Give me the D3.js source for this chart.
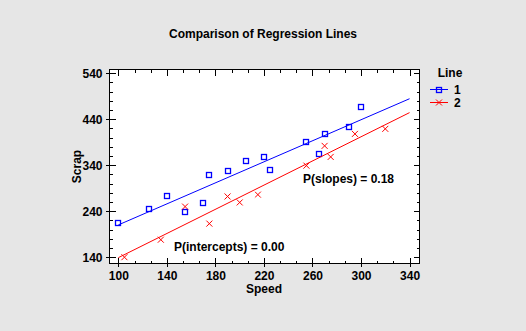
<!DOCTYPE html>
<html>
<head>
<meta charset="utf-8">
<script src="https://cdn.jsdelivr.net/npm/d3@7"></script>
<style>
  html, body { margin: 0; padding: 0; background: #e6e6e6; }
  svg { display: block; }
  text { font-family: "Liberation Sans", Arial, sans-serif; font-weight: bold; fill: #000; }
</style>
</head>
<body>
<svg id="chart" width="526" height="331"></svg>
<script>
/* ── Data ──────────────────────────────────────────────────── */
const line1Speed = [100, 125, 140, 155, 170, 175, 190, 205, 220, 225, 255, 265, 270, 290, 300];
const line1Scrap = [215, 245, 273, 239, 258, 319, 327, 349, 358, 330, 390, 364, 408, 423, 466];
const line2Speed = [105, 135, 155, 175, 190, 200, 215, 255, 270, 275, 295, 320];
const line2Scrap = [140, 178, 250, 213, 272, 259, 276, 339, 382, 358, 408, 419];

const xMajor = [100, 140, 180, 220, 260, 300, 340];
const yMajor = [140, 240, 340, 440, 540];
const fitRange = [100, 340];

const pSlopes = 'P(slopes) = 0.18';
const pIntercepts = 'P(intercepts) = 0.00';

const series = [
  { name: '1', speed: line1Speed, scrap: line1Scrap, color: '#0000ff', marker: 'square' },
  { name: '2', speed: line2Speed, scrap: line2Scrap, color: '#ff0000', marker: 'cross' },
];

/* ── Layout ────────────────────────────────────────────────── */
const svg = d3.select('#chart');
const plot = { left: 109.5, top: 69.5, right: 419.5, bottom: 263.5 };

const x = d3.scaleLinear().domain([92.7, 348.2]).range([plot.left, plot.right]);
const y = d3.scaleLinear().domain([126.3, 548]).range([plot.bottom, plot.top]);

// minor ticks: 3 steps per x major, 5 per y major
const xMinor = d3.range(0, 22).map(i => 100 + i * 40 / 3).filter(v => v <= 348 && !xMajor.some(m => Math.abs(m - v) < 1e-6));
const yMinor = d3.range(120, 560, 20).filter(v => v > 127 && v < 548 && !yMajor.includes(v));

svg.append('rect')
  .attr('x', plot.left).attr('y', plot.top)
  .attr('width', plot.right - plot.left).attr('height', plot.bottom - plot.top)
  .attr('fill', '#fff');

/* ── Axes ──────────────────────────────────────────────────── */
function tickAxis(axisFn, scale, values, size, tx, ty, labels) {
  const g = svg.append('g')
    .attr('transform', `translate(${tx},${ty})`)
    .call(axisFn(scale).tickValues(values).tickSizeInner(size).tickSizeOuter(0)
      .tickPadding(labels ? 6 : 0).tickFormat(labels ? d3.format('d') : ''));
  g.select('.domain').remove();
  g.selectAll('line').attr('stroke', '#000').attr('shape-rendering', 'crispEdges');
  g.selectAll('text').style('font-size', '12px').attr('fill', '#000');
  return g;
}

// bottom / left with labels, ticks pointing inward
tickAxis(d3.axisBottom, x, xMajor, -6, 0, plot.bottom, true)
  .selectAll('text').attr('dy', '0.9em');
tickAxis(d3.axisBottom, x, xMinor, -3, 0, plot.bottom, false);
tickAxis(d3.axisBottom, x, xMajor, 3, 0, plot.bottom, false);
tickAxis(d3.axisLeft, y, yMajor, -6, plot.left, 0, true)
  .selectAll('text').attr('x', -7);
tickAxis(d3.axisLeft, y, yMinor, -3, plot.left, 0, false);
tickAxis(d3.axisLeft, y, yMajor, 4, plot.left, 0, false);

// mirrored top / right
tickAxis(d3.axisTop, x, xMajor, -6, 0, plot.top, false);
tickAxis(d3.axisTop, x, xMinor, -3, 0, plot.top, false);
tickAxis(d3.axisRight, y, yMajor, -6, plot.right, 0, false);
tickAxis(d3.axisRight, y, yMinor, -3, plot.right, 0, false);

svg.append('rect')
  .attr('x', plot.left).attr('y', plot.top)
  .attr('width', plot.right - plot.left).attr('height', plot.bottom - plot.top)
  .attr('fill', 'none').attr('stroke', '#000').attr('stroke-width', 1);

/* ── Regression lines + points ─────────────────────────────── */
function fit(xs, ys) {
  const mx = d3.mean(xs), my = d3.mean(ys);
  const sxy = d3.sum(xs, (v, i) => (v - mx) * (ys[i] - my));
  const sxx = d3.sum(xs, v => (v - mx) ** 2);
  const b = sxy / sxx;
  return { a: my - b * mx, b };
}

const plotG = svg.append('g');

function drawMarker(g, type, cx, cy, color) {
  if (type === 'square') {
    g.append('rect')
      .attr('x', Math.round(cx) - 2.5).attr('y', Math.round(cy) - 2.5)
      .attr('width', 5).attr('height', 5)
      .attr('fill', 'none').attr('stroke', color).attr('stroke-width', 1.3);
  } else {
    const s = 3;
    g.append('path')
      .attr('d', `M${cx - s},${cy - s}L${cx + s},${cy + s}M${cx - s},${cy + s}L${cx + s},${cy - s}`)
      .attr('stroke', color).attr('stroke-width', 1).attr('fill', 'none');
  }
}

series.forEach(s => {
  const f = fit(s.speed, s.scrap);
  plotG.append('line')
    .attr('x1', x(fitRange[0])).attr('y1', y(f.a + f.b * fitRange[0]))
    .attr('x2', x(fitRange[1])).attr('y2', y(f.a + f.b * fitRange[1]))
    .attr('stroke', s.color).attr('stroke-width', 1);
  s.speed.forEach((v, i) => drawMarker(plotG, s.marker, x(v), y(s.scrap[i]), s.color));
});

/* ── Text ──────────────────────────────────────────────────── */
svg.append('text')
  .attr('x', 263).attr('y', 38)
  .attr('text-anchor', 'middle').style('font-size', '12px')
  .text('Comparison of Regression Lines');

svg.append('text')
  .attr('x', 264).attr('y', 293)
  .attr('text-anchor', 'middle').style('font-size', '12px')
  .text('Speed');

svg.append('text')
  .attr('transform', `translate(81,${(plot.top + plot.bottom) / 2}) rotate(-90)`)
  .attr('text-anchor', 'middle').style('font-size', '12px')
  .text('Scrap');

svg.append('text')
  .attr('x', 303).attr('y', 183).style('font-size', '12px')
  .text(pSlopes);

svg.append('text')
  .attr('x', 174).attr('y', 251).style('font-size', '12px')
  .text(pIntercepts);

/* ── Legend ────────────────────────────────────────────────── */
const legend = svg.append('g');
legend.append('text')
  .attr('x', 450).attr('y', 77)
  .attr('text-anchor', 'middle').style('font-size', '12px')
  .text('Line');

series.forEach((s, i) => {
  const ly = 89.5 + i * 13;
  legend.append('line')
    .attr('x1', 430).attr('x2', 448).attr('y1', ly).attr('y2', ly)
    .attr('stroke', s.color).attr('stroke-width', 1);
  drawMarker(legend, s.marker, 439, ly, s.color);
  legend.append('text')
    .attr('x', 454).attr('y', ly + 4.5).style('font-size', '12px')
    .text(s.name);
});
</script>
</body>
</html>
